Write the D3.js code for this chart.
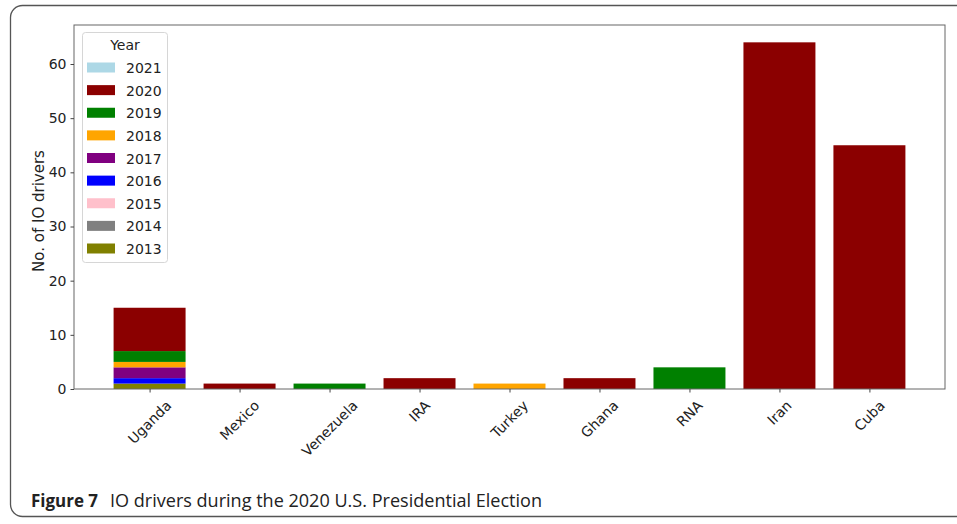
<!DOCTYPE html>
<html>
<head>
<meta charset="utf-8">
<script src="https://cdn.jsdelivr.net/npm/d3@7"></script>
<style>
  html, body { margin: 0; padding: 0; background: #fff; }
  svg { display: block; }
</style>
</head>
<body>
<svg id="chart" width="957" height="524"></svg>
<script>
// ---- data ----
const countries = ["Uganda", "Mexico", "Venezuela", "IRA", "Turkey", "Ghana", "RNA", "Iran", "Cuba"];
const years = ["2013", "2014", "2015", "2016", "2017", "2018", "2019", "2020", "2021"];
const yearColors = ["#808000", "#808080", "#ffc0cb", "#0000ff", "#800080", "#ffa500", "#008000", "#8b0000", "#add8e6"];
const y2013 = [1, 0, 0, 0, 0, 0, 0, 0, 0];
const y2014 = [0, 0, 0, 0, 0, 0, 0, 0, 0];
const y2015 = [0, 0, 0, 0, 0, 0, 0, 0, 0];
const y2016 = [1, 0, 0, 0, 0, 0, 0, 0, 0];
const y2017 = [2, 0, 0, 0, 0, 0, 0, 0, 0];
const y2018 = [1, 0, 0, 0, 1, 0, 0, 0, 0];
const y2019 = [2, 0, 1, 0, 0, 0, 4, 0, 0];
const y2020 = [8, 1, 0, 2, 0, 2, 0, 64, 45];
const y2021 = [0, 0, 0, 0, 0, 0, 0, 0, 0];
const yTicks = [0, 10, 20, 30, 40, 50, 60];
const yLabel = "No. of IO drivers";
const legendTitle = "Year";
const captionBold = "Figure 7";
const captionText = "IO drivers during the 2020 U.S. Presidential Election";

const seriesByYear = [y2013, y2014, y2015, y2016, y2017, y2018, y2019, y2020, y2021];
const table = countries.map((c, i) => {
  const row = { country: c };
  years.forEach((y, j) => { row[y] = seriesByYear[j][i]; });
  return row;
});

// ---- layout ----
const svg = d3.select("#chart");
const font = "'DejaVu Sans', sans-serif";
const fs = 14;
const plot = { left: 74, right: 945, top: 25, bottom: 389 };

// outer figure frame
svg.append("rect")
  .attr("x", 10.5).attr("y", 5.5)
  .attr("width", 980).attr("height", 511)
  .attr("rx", 12).attr("ry", 12)
  .attr("fill", "none").attr("stroke", "#555").attr("stroke-width", 1.3);

// scales
const n = countries.length;
const x = d3.scaleLinear().domain([-0.84, n - 1 + 0.84]).range([plot.left, plot.right]);
const barW = x(0.4) - x(-0.4);
const stackTotal = table.map(r => d3.sum(years, y => r[y]));
const yMax = d3.max(stackTotal) * 1.05;
const y = d3.scaleLinear().domain([0, yMax]).range([plot.bottom, plot.top]);
const color = d3.scaleOrdinal().domain(years).range(yearColors);

// bars
const stacked = d3.stack().keys(years)(table);
const g = svg.append("g");
stacked.forEach(layer => {
  g.selectAll(null)
    .data(layer.map((d, i) => ({ d, i })).filter(o => o.d[1] - o.d[0] > 0))
    .enter().append("rect")
    .attr("x", o => x(o.i) - barW / 2)
    .attr("width", barW)
    .attr("y", o => y(o.d[1]))
    .attr("height", o => y(o.d[0]) - y(o.d[1]))
    .attr("fill", color(layer.key));
});

// axes frame
svg.append("rect")
  .attr("x", plot.left).attr("y", plot.top)
  .attr("width", plot.right - plot.left).attr("height", plot.bottom - plot.top)
  .attr("fill", "none").attr("stroke", "#666").attr("stroke-width", 1);

// y axis
const yAxis = svg.append("g")
  .attr("transform", `translate(${plot.left},0)`)
  .call(d3.axisLeft(y).tickValues(yTicks).tickSize(3.5).tickPadding(4));
yAxis.select(".domain").remove();
yAxis.selectAll("line").attr("stroke", "#444");
yAxis.selectAll("text").attr("font-family", font).attr("font-size", fs).attr("fill", "#222");

svg.append("text")
  .attr("transform", `translate(39,${(plot.top + plot.bottom) / 2 + 4}) rotate(-90)`)
  .attr("text-anchor", "middle")
  .attr("dominant-baseline", "central")
  .attr("font-family", font).attr("font-size", 15).attr("fill", "#222")
  .text(yLabel);

// x axis ticks + rotated labels
const xAxis = svg.append("g")
  .attr("transform", `translate(0,${plot.bottom})`)
  .call(d3.axisBottom(x).tickValues(d3.range(n)).tickSize(3.5).tickFormat(""));
xAxis.select(".domain").remove();
xAxis.selectAll("line").attr("stroke", "#444");

const labelTop = plot.bottom + 9;
countries.forEach((c, i) => {
  const t = svg.append("text")
    .attr("font-family", font).attr("font-size", fs).attr("fill", "#222")
    .attr("text-anchor", "middle")
    .attr("dominant-baseline", "central")
    .text(c);
  const w = t.node().getComputedTextLength();
  const half = (w + fs) / (2 * Math.SQRT2);
  t.attr("transform", `translate(${x(i)},${labelTop + half}) rotate(-45)`);
});

// legend
const lg = svg.append("g");
lg.append("rect")
  .attr("x", 82.5).attr("y", 32.5).attr("width", 85).attr("height", 230)
  .attr("rx", 3).attr("fill", "#fff").attr("fill-opacity", 0.8)
  .attr("stroke", "#d6d6d6").attr("stroke-width", 1);
lg.append("text")
  .attr("x", 125).attr("y", 45)
  .attr("text-anchor", "middle").attr("dominant-baseline", "central")
  .attr("font-family", font).attr("font-size", fs).attr("fill", "#222")
  .text(legendTitle);
const legendYears = years.slice().reverse();
const ly = d3.scalePoint().domain(legendYears).range([68, 249]);
legendYears.forEach(yr => {
  lg.append("rect")
    .attr("x", 87).attr("y", ly(yr) - 5.5).attr("width", 28).attr("height", 10)
    .attr("fill", color(yr));
  lg.append("text")
    .attr("x", 126).attr("y", ly(yr))
    .attr("dominant-baseline", "central")
    .attr("font-family", font).attr("font-size", fs).attr("fill", "#222")
    .text(yr);
});

// caption
svg.append("text")
  .attr("x", 31).attr("y", 507)
  .attr("font-family", "'Open Sans', 'Noto Sans', sans-serif")
  .attr("font-weight", "bold").attr("font-size", 18).attr("fill", "#222")
  .attr("textLength", 67).attr("lengthAdjust", "spacingAndGlyphs")
  .text(captionBold);
svg.append("text")
  .attr("x", 110).attr("y", 507)
  .attr("font-family", "'Open Sans', 'Noto Sans', sans-serif")
  .attr("font-size", 18).attr("fill", "#222")
  .attr("textLength", 432).attr("lengthAdjust", "spacingAndGlyphs")
  .text(captionText);
</script>
</body>
</html>
